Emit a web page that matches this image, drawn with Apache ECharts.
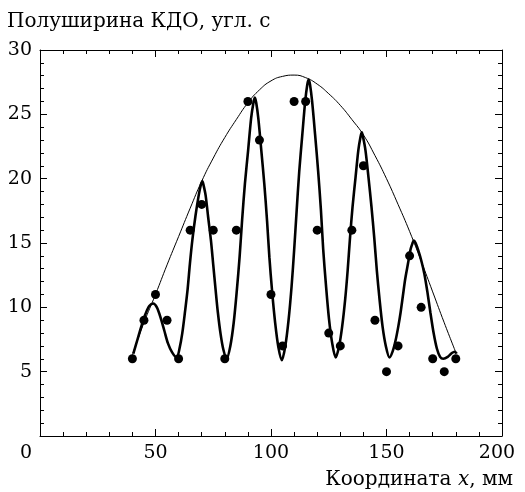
<!DOCTYPE html>
<html>
<head>
<meta charset="utf-8">
<script src="https://cdn.jsdelivr.net/npm/echarts@6/dist/echarts.min.js"></script>
<style>
  html, body { margin: 0; padding: 0; background: #fff; }
  #chart { width: 525px; height: 492px; }
</style>
</head>
<body>
<div id="chart"></div>
<script>
// measured points (x in mm, half-width in arc sec)
const pointX = [40, 45, 50, 55, 60, 65, 70, 75, 80, 85, 90, 95, 100, 105, 110, 115, 120, 125, 130, 135, 140, 145, 150, 155, 160, 165, 170, 175, 180];
const pointY = [6, 9, 11, 9, 6, 16, 18, 16, 6, 16, 26, 23, 11, 7, 26, 26, 16, 8, 7, 16, 21, 9, 5, 7, 14, 10, 6, 5, 6];

// thick oscillating curve
const fitX = [40.4, 42.2, 44, 45.7, 47.3, 49, 50.6, 52.2, 53.8, 55.4, 57.2, 59.2,
  60.4, 61.6, 62.8, 63.9, 64.9, 66.0, 67.3, 68.7, 69.6, 70.3,
  70.8, 71.7, 72.8, 74.0, 75.0, 76.0, 77.0, 78.2, 79.4, 80.8,
  82.4, 83.85, 85.2, 86.4, 87.5, 88.7, 90.1, 91.4, 92.4, 93,
  93.6, 94.5, 95.8, 97.1, 98.3, 99.3, 100.5, 101.8, 103.2, 104.7,
  106.2, 107.6, 108.9, 110.0, 111.1, 112.2, 113.5, 114.8, 115.7, 116.3,
  116.9, 117.8, 119.1, 120.4, 121.6, 122.6, 123.8, 125.1, 126.5, 128,
  129.5, 130.8, 132.1, 133.2, 134.2, 135.3, 136.6, 137.8, 138.7, 139.3,
  139.9, 140.9, 142.2, 143.5, 144.7, 145.8, 147.0, 148.3, 149.7, 151.3,
  152.7, 153.9, 155.1, 156.1, 157.1, 158.1, 159.3, 160.4, 161.3, 161.8,
  162.6, 163.8, 165.1, 166.4, 167.7, 169.0, 170.4, 171.8, 173.2, 174.6, 176.5, 178.3, 179.6, 180.4];
const fitY = [6.4, 7.5, 8.6, 9.5, 10.1, 10.3, 10.0, 9.2, 8.2, 7.2, 6.5, 6.1,
  6.8, 8.0, 9.7, 11.4, 13.4, 15.3, 17.1, 18.7, 19.5, 19.8,
  19.5, 18.7, 17.0, 15.2, 13.3, 11.4, 9.6, 7.9, 6.7, 6.0,
  7.0, 8.8, 11.3, 13.9, 16.8, 19.6, 22.2, 24.7, 25.9, 26.3,
  25.9, 24.7, 22.2, 19.6, 16.7, 13.9, 11.2, 8.8, 6.9, 5.9,
  7.0, 9.0, 11.6, 14.4, 17.5, 20.5, 23.3, 26.0, 27.3, 27.7,
  27.3, 26.0, 23.4, 20.6, 17.6, 14.5, 11.7, 9.1, 7.2, 6.1,
  7.0, 8.5, 10.6, 12.9, 15.4, 17.8, 20.1, 22.2, 23.2, 23.6,
  23.2, 22.2, 20.1, 17.8, 15.4, 12.9, 10.6, 8.5, 7.0, 6.1,
  6.6, 7.4, 8.5, 9.6, 10.9, 12.2, 13.4, 14.5, 15.0, 15.2,
  15.0, 14.4, 13.6, 12.6, 11.2, 9.6, 8.0, 6.8, 6.15, 6.0, 6.15, 6.45, 6.55, 6.4];

// thin envelope curve
const envX = [40, 45, 50, 55, 60, 65, 70, 75, 80, 85, 90, 95, 100, 105, 110, 115, 120, 125, 130, 135, 140, 145, 150, 155, 160, 165, 170, 175, 180];
const envY = [6.3, 8.8, 11.0, 13.3, 15.5, 17.7, 19.8, 21.6, 23.2, 24.6, 25.9, 26.9, 27.6, 27.95, 28.05, 27.85, 27.35, 26.6, 25.7, 24.6, 23.4, 21.8, 20.0, 18.0, 15.9, 13.6, 11.2, 8.8, 6.5];

const FONT = 'DejaVu Serif';
const zip = (xs, ys) => xs.map((x, i) => [x, ys[i]]);

const chart = echarts.init(document.getElementById('chart'));

const tickStyle = { color: '#000', width: 1 };
function frameAxis(extra) {
  return Object.assign({
    type: 'value',
    axisLine: { show: true, onZero: false, lineStyle: tickStyle },
    axisTick: { show: true, inside: true, length: 7, lineStyle: tickStyle },
    minorTick: { show: true, splitNumber: 5, length: 4, lineStyle: tickStyle },
    splitLine: { show: false },
    minorSplitLine: { show: false }
  }, extra);
}

const option = {
  animation: false,
  backgroundColor: '#fff',
  title: {
    text: 'Полуширина КДО, угл. с',
    left: 7,
    top: 12,
    padding: 0,
    textStyle: { fontFamily: FONT, fontSize: 20, fontWeight: 'normal', color: '#000' }
  },
  grid: { left: 40, right: 23, top: 50, bottom: 56 },
  xAxis: [
    frameAxis({
      min: 0, max: 200, interval: 50, position: 'bottom',
      axisLabel: {
        margin: 8,
        color: '#000', fontFamily: FONT, fontSize: 19,
        formatter: v => v === 0 ? '{a|0}' : v === 200 ? '{b|200}' : String(v),
        rich: {
          a: { fontFamily: FONT, fontSize: 19, color: '#000', padding: [0, 28, 0, 0] },
          b: { fontFamily: FONT, fontSize: 19, color: '#000', padding: [0, 10, 0, 0] }
        }
      },
      name: 'Координата {i|x}, мм',
      nameLocation: 'end',
      nameGap: 11,
      nameTextStyle: {
        fontFamily: FONT, fontSize: 20, color: '#000',
        align: 'right', verticalAlign: 'top', padding: [34, 0, 0, 0],
        rich: { i: { fontFamily: FONT, fontSize: 20, fontStyle: 'italic', color: '#000' } }
      }
    }),
    frameAxis({ min: 0, max: 200, interval: 50, position: 'top', axisLabel: { show: false } })
  ],
  yAxis: [
    frameAxis({
      min: 0, max: 30, interval: 5, position: 'left',
      axisLabel: {
        margin: 8, color: '#000', fontFamily: FONT, fontSize: 19,
        formatter: v => v === 0 ? '' : String(v)
      }
    }),
    frameAxis({ min: 0, max: 30, interval: 5, position: 'right', axisLabel: { show: false } })
  ],
  series: [
    {
      type: 'line', name: 'envelope', data: zip(envX, envY),
      smooth: true, showSymbol: false,
      lineStyle: { color: '#000', width: 1 }
    },
    {
      type: 'line', name: 'fit', data: zip(fitX, fitY),
      smooth: 0.3, showSymbol: false,
      lineStyle: { color: '#000', width: 2.6 }
    },
    {
      type: 'scatter', name: 'points', data: zip(pointX, pointY),
      symbol: 'circle', symbolSize: 9,
      itemStyle: { color: '#000', opacity: 1 }
    }
  ]
};

chart.setOption(option);
</script>
</body>
</html>
